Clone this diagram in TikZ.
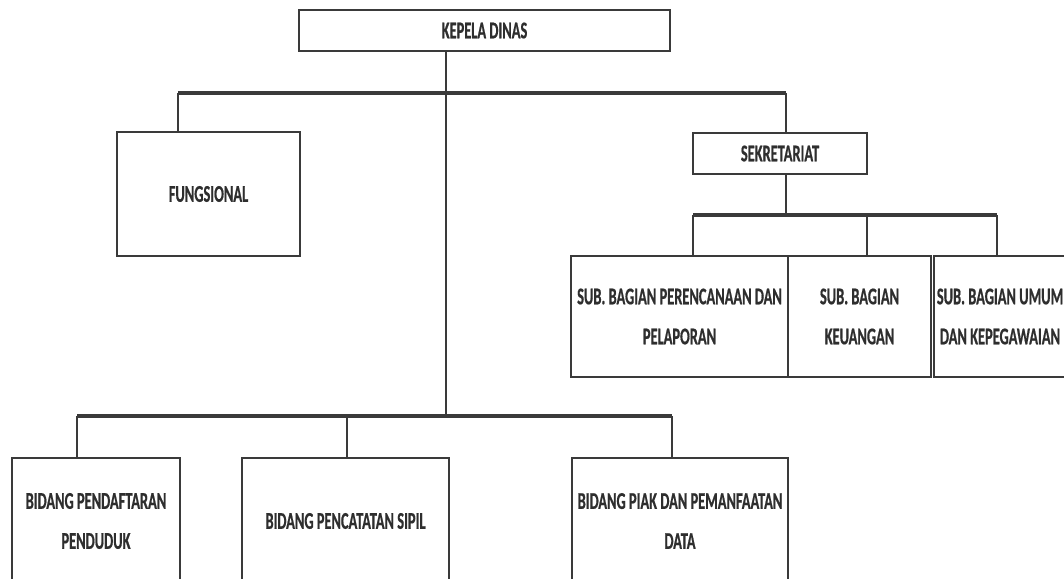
\documentclass[tikz,border=0pt]{standalone}
\usepackage{fontspec}
\setmainfont[FakeStretch=0.6,BoldFeatures={FakeBold=0.6}]{Carlito}
\usetikzlibrary{calc}
\definecolor{ink}{HTML}{3A3A3A}
\definecolor{txt}{HTML}{2E2E2E}
\tikzset{
  orgbox/.style={draw=ink, line width=2pt, fill=white, inner sep=0pt, align=center,
    text=txt, font=\fontsize{24}{40}\selectfont\bfseries},
  bus/.style={draw=ink, line width=3.5pt},
  link/.style={draw=ink, line width=1.8pt},
}
\begin{document}
\begin{tikzpicture}[x=1pt,y=-1pt]
\useasboundingbox (0,0) rectangle (1064,578);
\clip (0,0) rectangle (1064,578);
\fill[white] (0,0) rectangle (1064,578);
% nodes
\node[orgbox, minimum width=371pt, minimum height=41pt] (kd) at (484.5,30.5) {KEPELA DINAS};
\node[orgbox, minimum width=183pt, minimum height=124pt] (fung) at (208.5,194) {FUNGSIONAL};
\node[orgbox, minimum width=174pt, minimum height=41pt] (sek) at (780,153.5) {SEKRETARIAT};
\node[orgbox, minimum width=217pt, minimum height=121pt] (sb1) at (679.5,316.5) {SUB. BAGIAN PERENCANAAN DAN\\PELAPORAN};
\node[orgbox, minimum width=143pt, minimum height=121pt] (sb2) at (859.5,316.5) {SUB. BAGIAN\\KEUANGAN};
\node[orgbox, minimum width=132pt, minimum height=121pt] (sb3) at (1000,316.5) {SUB. BAGIAN UMUM\\DAN KEPEGAWAIAN};
\node[orgbox, minimum width=168pt, minimum height=126pt] (bd1) at (96,521) {BIDANG PENDAFTARAN\\PENDUDUK};
\node[orgbox, minimum width=207pt, minimum height=126pt] (bd2) at (345.5,521) {BIDANG PENCATATAN SIPIL};
\node[orgbox, minimum width=216pt, minimum height=126pt] (bd3) at (680,521) {BIDANG PIAK DAN PEMANFAATAN\\DATA};
% bus coordinates
\coordinate (ta) at (446,93);
\coordinate (tb) at (446,416);
\coordinate (b1l) at (178,93);
\coordinate (b1r) at (786,93);
\coordinate (s2) at (786,215);
\coordinate (b2l) at (693,215);
\coordinate (b2m) at (867,215);
\coordinate (b2r) at (997,215);
\coordinate (b3l) at (77,416);
\coordinate (b3m) at (347,416);
\coordinate (b3r) at (672,416);
% connectors
\draw[link] (kd.south -| ta) -- (tb);
\draw[bus] (b1l) -- (b1r);
\draw[link] (b1l) -- (fung.north -| b1l);
\draw[link] (b1r) -- (sek.north -| b1r);
\draw[link] (sek.south -| s2) -- (s2);
\draw[bus] (b2l) -- (b2r);
\draw[link] (b2l) -- (sb1.north -| b2l);
\draw[link] (b2m) -- (sb2.north -| b2m);
\draw[link] (b2r) -- (sb3.north -| b2r);
\draw[bus] (b3l) -- (b3r);
\draw[link] (b3l) -- (bd1.north -| b3l);
\draw[link] (b3m) -- (bd2.north -| b3m);
\draw[link] (b3r) -- (bd3.north -| b3r);
\end{tikzpicture}
\end{document}
